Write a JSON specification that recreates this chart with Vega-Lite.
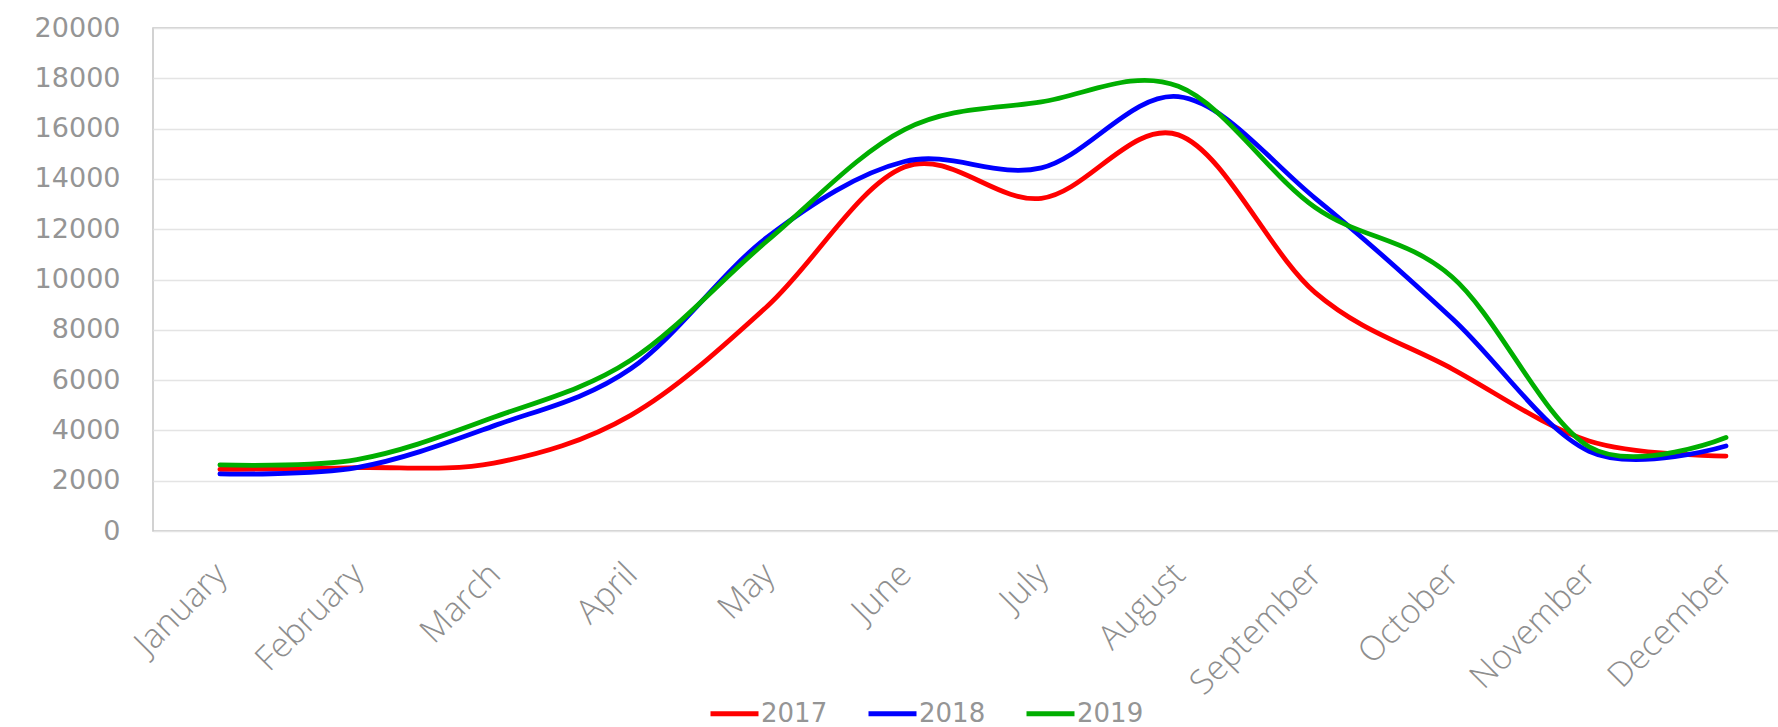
{
  "$schema": "https://vega.github.io/schema/vega-lite/v6.json",
  "autosize": {"type": "none"},
  "padding": {"left": 153, "top": 28, "right": 0, "bottom": 196},
  "width": 1626,
  "height": 503,
  "background": "white",
  "config": {
    "view": {"stroke": "#c4c4c4", "strokeWidth": 1.5},
    "axis": {"gridColor": "#e4e4e4", "gridWidth": 1.5, "domain": false, "ticks": false}
  },
  "data": {
    "values": [
      {"month": "January", "year": "2017", "value": 2450},
      {"month": "February", "year": "2017", "value": 2520},
      {"month": "March", "year": "2017", "value": 2700},
      {"month": "April", "year": "2017", "value": 4600},
      {"month": "May", "year": "2017", "value": 8950},
      {"month": "June", "year": "2017", "value": 14470},
      {"month": "July", "year": "2017", "value": 13230},
      {"month": "August", "year": "2017", "value": 15750},
      {"month": "September", "year": "2017", "value": 9480},
      {"month": "October", "year": "2017", "value": 6450},
      {"month": "November", "year": "2017", "value": 3580},
      {"month": "December", "year": "2017", "value": 2980},
      {"month": "January", "year": "2018", "value": 2270},
      {"month": "February", "year": "2018", "value": 2520},
      {"month": "March", "year": "2018", "value": 4180},
      {"month": "April", "year": "2018", "value": 6450},
      {"month": "May", "year": "2018", "value": 11690},
      {"month": "June", "year": "2018", "value": 14690},
      {"month": "July", "year": "2018", "value": 14440},
      {"month": "August", "year": "2018", "value": 17270},
      {"month": "September", "year": "2018", "value": 13230},
      {"month": "October", "year": "2018", "value": 8450},
      {"month": "November", "year": "2018", "value": 3170},
      {"month": "December", "year": "2018", "value": 3380},
      {"month": "January", "year": "2019", "value": 2630},
      {"month": "February", "year": "2019", "value": 2840},
      {"month": "March", "year": "2019", "value": 4520},
      {"month": "April", "year": "2019", "value": 6790},
      {"month": "May", "year": "2019", "value": 11550},
      {"month": "June", "year": "2019", "value": 15960},
      {"month": "July", "year": "2019", "value": 17060},
      {"month": "August", "year": "2019", "value": 17680},
      {"month": "September", "year": "2019", "value": 12860},
      {"month": "October", "year": "2019", "value": 10100},
      {"month": "November", "year": "2019", "value": 3350},
      {"month": "December", "year": "2019", "value": 3720}
    ]
  },
  "mark": {"type": "line", "interpolate": "cardinal", "tension": 0, "strokeWidth": 4.8, "strokeCap": "round", "strokeJoin": "round"},
  "encoding": {
    "x": {
      "field": "month",
      "type": "ordinal",
      "sort": ["January", "February", "March", "April", "May", "June", "July", "August", "September", "October", "November", "December"],
      "scale": {"type": "point", "padding": 0.438, "align": 0.558},
      "axis": {
        "title": null,
        "grid": false,
        "labelAngle": -45,
        "labelAlign": "right",
        "labelBaseline": "top",
        "labelPadding": 26,
        "labelOffset": -11,
        "labelFont": "Open Sans",
        "labelFontWeight": 300,
        "labelFontSize": 34,
        "labelColor": "#8e8e8e",
        "labelOverlap": false
      }
    },
    "y": {
      "field": "value",
      "type": "quantitative",
      "scale": {"domain": [0, 20000], "nice": false},
      "axis": {
        "title": null,
        "values": [0, 2000, 4000, 6000, 8000, 10000, 12000, 14000, 16000, 18000, 20000],
        "format": "d",
        "labelPadding": 33,
        "labelFont": "DejaVu Sans",
        "labelFontSize": 27,
        "labelColor": "#959595"
      }
    },
    "color": {
      "field": "year",
      "type": "nominal",
      "scale": {"domain": ["2017", "2018", "2019"], "range": ["#FF0000", "#0000FF", "#00AE00"]},
      "legend": {
        "title": null,
        "orient": "none",
        "direction": "horizontal",
        "legendX": 555,
        "legendY": 659,
        "padding": 0,
        "symbolType": "stroke",
        "symbolSize": 2304,
        "symbolStrokeWidth": 5,
        "labelOffset": 0,
        "columnPadding": 30,
        "labelFont": "DejaVu Sans",
        "labelFontSize": 26,
        "labelColor": "#959595"
      }
    }
  }
}
